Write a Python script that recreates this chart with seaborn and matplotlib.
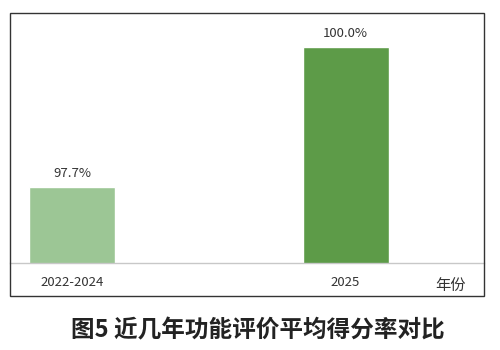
import matplotlib
matplotlib.use("Agg")
import matplotlib.pyplot as plt
import seaborn as sns
import pandas as pd
from matplotlib.patches import Rectangle

categories = ["2022-2024", "2025"]
values = [97.7, 100.0]
labels = ["97.7%", "100.0%"]
colors = ["#9cc695", "#5d9b48"]

sns.set_theme(style="white")
plt.rcParams['font.family'] = ['Noto Sans CJK SC', 'DejaVu Sans']

df = pd.DataFrame({"cat": categories, "val": values})

fig = plt.figure(figsize=(5, 3.5), dpi=100)
W, H = 500, 350
ax = fig.add_axes([10 / W, 1 - 263 / H, 474 / W, 250 / H])

sns.barplot(data=df, x="cat", y="val", hue="cat", palette=colors,
            width=0.314, dodge=False, legend=False, ax=ax, saturation=1)

ax.set_ylim(96.45, 100.56)
ax.set_xlim(-0.227, 1.506)
for s in ["top", "right", "left"]:
    ax.spines[s].set_visible(False)
ax.spines["bottom"].set_color("#c8c8c8")
ax.spines["bottom"].set_linewidth(1.0)
ax.set_yticks([])
ax.set_xlabel("")
ax.set_ylabel("")
ax.tick_params(axis="x", length=0, pad=9, labelsize=9.5, labelcolor="#333333")

for cont, lab in zip(ax.containers, [[labels[0]], [labels[1]]]):
    ax.bar_label(cont, labels=lab, padding=5, fontsize=9.5, color="#333333")

# outer frame
fig.patches.append(Rectangle((10 / W, 1 - 296 / H), 474 / W, 283 / H,
                             transform=fig.transFigure, fill=False,
                             edgecolor="#333333", linewidth=1.0))

fig.text(451 / W, 1 - 285 / H, "年份", ha="center", va="center",
         fontsize=11, color="#333333")
fig.text(258 / W, 1 - 330 / H, "图5 近几年功能评价平均得分率对比", ha="center",
         va="center", fontsize=17, fontweight="bold", color="#222222")

fig.savefig("out.png", dpi=100)
